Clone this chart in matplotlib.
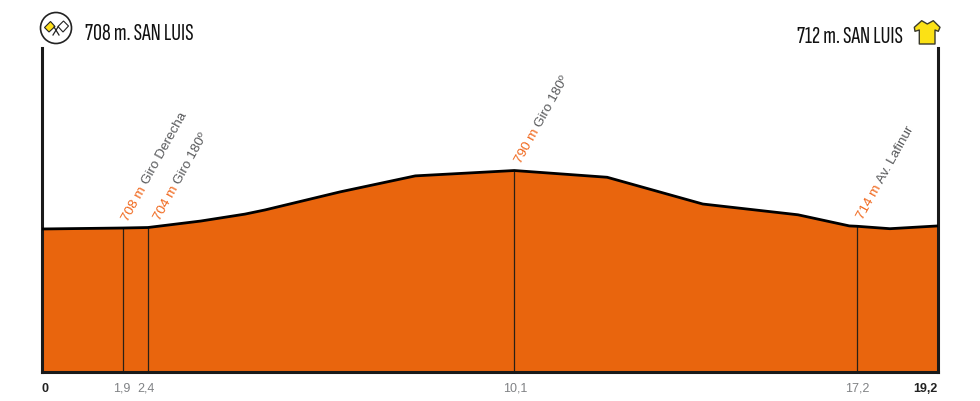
import math
import matplotlib
matplotlib.use("Agg")
import matplotlib.pyplot as plt
from matplotlib.patches import Circle, Polygon
from matplotlib.lines import Line2D
from matplotlib.text import Text
from matplotlib import font_manager as fm

# Data (the drawn profile is not strictly to km scale)
profile_km = [0, 1.74, 2.27, 3.4, 4.35, 4.78, 6.39, 8.0, 10.12, 12.11, 14.16, 16.2, 17.3, 17.46, 18.17, 19.2]
profile_m = [706.6, 708, 708.7, 718, 728, 734, 760, 783, 790.7, 781, 742.5, 727, 711, 710.5, 707, 711]
marker_km = [1.74, 2.27, 10.12, 17.46]
marker_height = [708, 708.7, 790.7, 710.5]
marker_alt = ["708 m", "704 m", "790 m", "714 m"]
marker_name = ["Giro Derecha", "Giro 180º", "Giro 180º", "Av. Lafinur"]
label_dx = [7, 15, 9, 9]
tick_km = [0.07, 1.7, 2.23, 10.14, 17.48, 18.93]
tick_labels = ["0", "1,9", "2,4", "10,1", "17,2", "19,2"]
tick_bold = [True, False, False, False, False, True]
start_title = "708 m. SAN LUIS"
end_title = "712 m. SAN LUIS"

W, H = 980, 402
ORANGE = "#E9650D"
TXT_OR = "#F0661A"
GREY = "#58595B"
TICK = "#808285"
ANG = 61
LABEL_SIZE = 9.7

fig = plt.figure(figsize=(W / 100, H / 100), dpi=100)
ax = fig.add_axes([42 / W, (H - 373) / H, 896 / W, 324 / H])
ax.set_xlim(0, 19.2)
base = 708 - (373 - 229) / 0.695
ax.set_ylim(base, base + 324 / 0.695)
ax.patch.set_alpha(0)
ax.spines["top"].set_visible(False)
for s in ["left", "right", "bottom"]:
    ax.spines[s].set_linewidth(2.2)
    ax.spines[s].set_color("#1a1a1a")
ax.fill_between(profile_km, profile_m, base, color=ORANGE, lw=0, zorder=1)
ax.plot(profile_km, profile_m, color="black", lw=2.0, zorder=3, solid_capstyle="butt")
ax.vlines(marker_km, base, marker_height, color="#2a2015", lw=0.9, zorder=2)

ax.set_xticks(tick_km)
ax.set_xticklabels(tick_labels, fontsize=9, family="Liberation Sans")
ax.tick_params(axis="x", length=0, pad=7)
for lab, b in zip(ax.get_xticklabels(), tick_bold):
    lab.set_color("#222222" if b else TICK)
    lab.set_fontweight("bold" if b else "normal")
ax.set_yticks([])

# rotated annotations: orange altitude followed by grey name
renderer = fig.canvas.get_renderer()
dy = 6
for km, h, alt, name, dx in zip(marker_km, marker_height, marker_alt, marker_name, label_dx):
    ax.annotate(alt, (km, h), xytext=(dx, dy), textcoords="offset pixels", rotation=ANG,
                rotation_mode="anchor", ha="left", va="bottom", color=TXT_OR,
                fontsize=LABEL_SIZE, family="Liberation Sans")
    probe = Text(0, 0, alt, fontsize=LABEL_SIZE, family="Liberation Sans", figure=fig)
    w = probe.get_window_extent(renderer).width + 4
    ax.annotate(name, (km, h), rotation=ANG, rotation_mode="anchor",
                xytext=(dx + w * math.cos(math.radians(ANG)), dy + w * math.sin(math.radians(ANG))),
                textcoords="offset pixels", ha="left", va="bottom", color=GREY,
                fontsize=LABEL_SIZE, family="Liberation Sans")

# header, in pixel coordinates
ov = fig.add_axes([0, 0, 1, 1])
ov.set_xlim(0, W)
ov.set_ylim(H, 0)
ov.axis("off")
ov.patch.set_alpha(0)
available = {f.name for f in fm.fontManager.ttflist}
narrow = next((n for n in ["Sofia Sans Extra Condensed", "Sofia Sans Condensed", "Liberation Sans"] if n in available))
ov.text(85, 40.5, start_title, fontsize=17.8, family=narrow, va="baseline", ha="left", color="#111111", fontweight="medium")
ov.text(903, 43, end_title, fontsize=17.8, family=narrow, va="baseline", ha="right", color="#111111", fontweight="medium")

# start flags icon
ov.add_patch(Circle((56, 29), 15.5, fc="white", ec="#222222", lw=1.2))
ov.add_line(Line2D([54, 59], [28, 36], color="#222222", lw=0.9))
ov.add_line(Line2D([58.3, 53], [27.5, 36], color="#222222", lw=0.9))
ov.add_patch(Polygon([(44.5, 28.5), (50.5, 22.5), (55, 27.5), (49, 33)], fc="#FFE01B", ec="#222222", lw=0.8))
ov.add_patch(Polygon([(58, 27.5), (63.5, 22), (68.5, 27), (63, 33)], fc="white", ec="#222222", lw=0.8))

# leader jersey icon
shirt = [(921.7, 21.7), (927.3, 25), (933.3, 21.7), (940, 28.3), (938.3, 32.3), (935, 31), (935, 45),
         (919.3, 45), (919.3, 31), (915, 32.3), (914.3, 28.3)]
ov.add_patch(Polygon(shirt, fc="#FBE115", ec="#3a3a2a", lw=1.0, joinstyle="round"))

fig.savefig("out.png", dpi=100)
